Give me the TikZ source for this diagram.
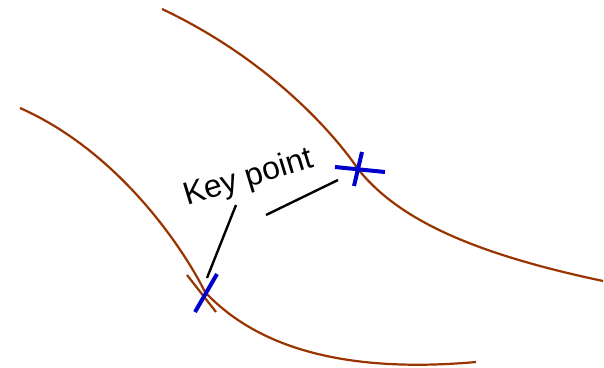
\documentclass[tikz,border=0pt]{standalone}
\usepackage{fontspec}
\setmainfont{Liberation Sans}
\usetikzlibrary{calc}
\definecolor{curvebrown}{RGB}{153, 51, 0}
\definecolor{crossblue}{RGB}{0, 0, 204}
\tikzset{
  % Egri chiziqlar
  curveline/.style = {draw=curvebrown, line width=1.1pt},
  % Kesishma belgisi
  crossline/.style = {draw=crossblue, line width=2pt},
  % Ko'rsatkich chiziqlari
  pointer/.style   = {draw=black, line width=1.2pt},
  lab/.style       = {font=\fontsize{16}{19}\selectfont, inner sep=0pt},
}
\begin{document}
\begin{tikzpicture}[x=0.5pt, y=-0.5pt]
  \useasboundingbox (0,0) rectangle (604,368);
  % Kalit nuqtalar
  \coordinate (kpA) at (205,292);
  \coordinate (kpB) at (358,169);
  % Yuqori egri chiziq
  \draw[curveline] (162,9) .. controls (270,60) and (335,135) .. (kpB)
    .. controls (400,222) and (480,255) .. (603,281);
  % Pastki egri chiziq
  \draw[curveline] (20,108) .. controls (115,150) and (180,242) .. (kpA)
    .. controls (250,340) and (330,375) .. (476,362);
  % Urinma
  \draw[curveline] (187,275) -- (216,312);
  % Belgilar
  \draw[crossline] (195,312) -- (217,274);
  \draw[crossline] (335,167) -- (385,172);
  \draw[crossline] (362,152) -- (354,186);
  % Etiket
  \node[lab, anchor=base west, rotate=17] (keylab) at (187,206) {Key point};
  \coordinate (tipA) at (207,278);
  \coordinate (tipB) at (338,180);
  \draw[pointer] (236,205) -- (tipA);
  \draw[pointer] (266,215) -- (tipB);
\end{tikzpicture}
\end{document}
